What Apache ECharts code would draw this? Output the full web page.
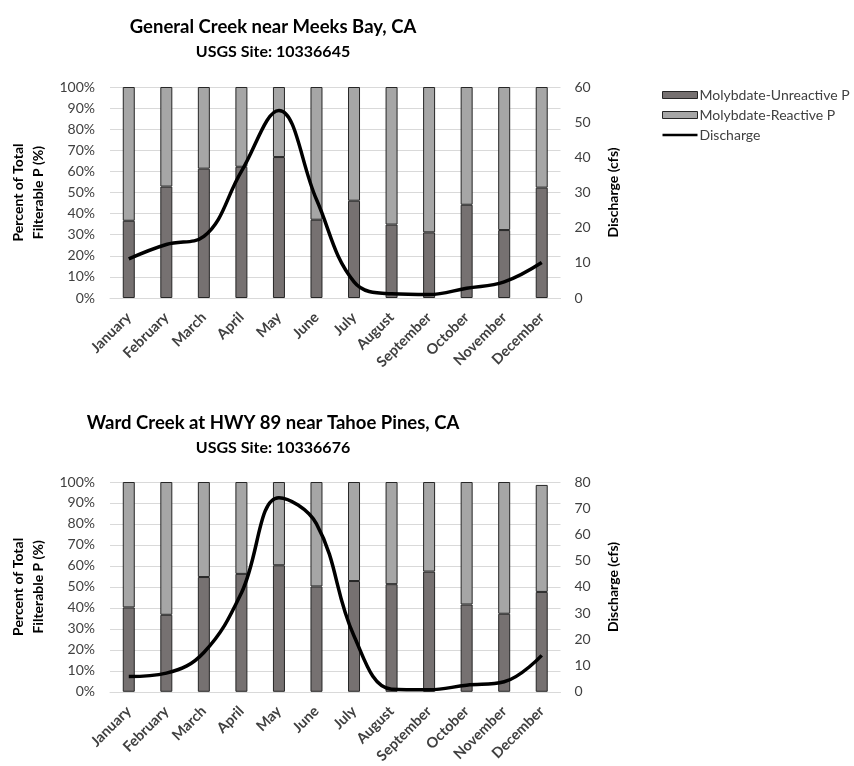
<!DOCTYPE html>
<html>
<head>
<meta charset="utf-8">
<script src="https://cdn.jsdelivr.net/npm/echarts@6/dist/echarts.min.js"></script>
<style>
html,body{margin:0;padding:0;background:#fff;}
#chart{width:854px;height:766px;}
</style>
</head>
<body>
<div id="chart"></div>
<script>
// ---- data ----
var months = ['January','February','March','April','May','June','July','August','September','October','November','December'];
var percentTicks = [0,10,20,30,40,50,60,70,80,90,100];

var generalUnreactive = [36.6, 52.8, 61.3, 62.2, 66.8, 37.1, 46.1, 34.8, 31.1, 44.2, 32.2, 52.3];
var generalReactive   = [63.4, 47.2, 38.7, 37.8, 33.2, 62.9, 53.9, 65.2, 68.9, 55.8, 67.8, 47.7];
var generalDischarge  = [11.1, 15.2, 17.5, 36.0, 53.3, 28.0, 4.6, 1.2, 1.0, 2.8, 4.6, 10.1];

var wardUnreactive = [40.2, 36.7, 54.7, 56.2, 60.3, 50.2, 52.8, 51.3, 57.3, 41.6, 37.2, 47.6];
var wardReactive   = [59.8, 63.3, 45.3, 43.8, 39.7, 49.8, 47.2, 48.7, 42.7, 58.4, 62.8, 51.0];
var wardDischarge  = [5.8, 7.1, 15.0, 37.7, 74.0, 64.0, 21.3, 1.0, 0.8, 2.5, 3.8, 13.9];

var titles = ['General Creek near Meeks Bay, CA', 'Ward Creek at HWY 89 near Tahoe Pines, CA'];
var subtitles = ['USGS Site: 10336645', 'USGS Site: 10336676'];
var seriesNames = ['Molybdate-Unreactive P', 'Molybdate-Reactive P', 'Discharge'];

// ---- chart ----
var FONT = 'Lato, "Open Sans", sans-serif';
var DARK = '#767171', LIGHT = '#a6a6a6', EDGE = '#262626', GRID = '#d9d9d9', TXT = '#404040';

var chart = echarts.init(document.getElementById('chart'), null, {renderer:'canvas'});

function titleItem(text, cy, size){
  return {text:text, left:273, top:cy - size*0.65, textAlign:'center', padding:0,
    textStyle:{fontFamily:FONT, fontWeight:'bold', fontSize:size, color:'#000', lineHeight:Math.round(size*1.3)}};
}

var gridTops = [87, 482];
var grids = gridTops.map(function(t){ return {left:109.5, right:293.5, top:t, height:211}; });

var xAxes = [0,1].map(function(i){
  return {type:'category', gridIndex:i, data:months, boundaryGap:true,
    axisTick:{show:false}, axisLine:{lineStyle:{color:GRID, width:1}},
    axisLabel:{rotate:45, interval:0, margin:17, fontFamily:FONT, fontSize:14.5, fontWeight:'bold', color:TXT}};
});

function leftAxis(i){
  return {type:'value', gridIndex:i, min:percentTicks[0], max:percentTicks[percentTicks.length-1], interval:10,
    position:'left',
    name:'Percent of Total\nFilterable P (%)', nameLocation:'middle', nameGap:62, nameRotate:90,
    nameTextStyle:{fontFamily:FONT, fontWeight:'bold', fontSize:14, color:'#000', lineHeight:20},
    axisLine:{show:false}, axisTick:{show:false},
    splitLine:{lineStyle:{color:GRID, width:1}},
    axisLabel:{formatter:'{value}%', margin:15, fontFamily:FONT, fontSize:14, color:TXT}};
}
function rightAxis(i, max){
  return {type:'value', gridIndex:i, min:0, max:max, interval:10, position:'right',
    name:'Discharge (cfs)', nameLocation:'middle', nameGap:46, nameRotate:90,
    nameTextStyle:{fontFamily:FONT, fontWeight:'bold', fontSize:14, color:'#000'},
    axisLine:{show:false}, axisTick:{show:false}, splitLine:{show:false},
    axisLabel:{margin:14, fontFamily:FONT, fontSize:14, color:TXT}};
}

function barSeries(name, data, color, gi, stack){
  return {name:name, type:'bar', stack:stack, xAxisIndex:gi, yAxisIndex:gi*2, data:data, barWidth:12,
    itemStyle:{color:color, borderColor:EDGE, borderWidth:1}, emphasis:{disabled:true}};
}
function lineSeries(name, data, gi){
  return {name:name, type:'line', xAxisIndex:gi, yAxisIndex:gi*2+1, data:data, smooth:0.4,
    symbol:'none', lineStyle:{color:'#000', width:3.5}, itemStyle:{color:'#000'}, z:5};
}

var option = {
  backgroundColor:'#fff',
  animation:false,
  title:[
    titleItem(titles[0], 27, 18.5),
    titleItem(subtitles[0], 52, 16),
    titleItem(titles[1], 423, 18.5),
    titleItem(subtitles[1], 448, 16)
  ],
  legend:{
    orient:'vertical', left:657, top:83, itemWidth:35, itemHeight:7, itemGap:6,
    textStyle:{fontFamily:FONT, fontSize:14, color:TXT, lineHeight:14, padding:[0,0,0,-3]},
    data:[
      {name:seriesNames[0], icon:'rect', itemStyle:{color:DARK, borderColor:EDGE, borderWidth:1}},
      {name:seriesNames[1], icon:'rect', itemStyle:{color:LIGHT, borderColor:EDGE, borderWidth:1}},
      {name:seriesNames[2], icon:'path://M0,0 M0,2.2 L35,2.2 L35,4.8 L0,4.8 Z M35,7',
        itemStyle:{color:'#000', borderWidth:0}}
    ]
  },
  grid:grids,
  xAxis:xAxes,
  yAxis:[leftAxis(0), rightAxis(0,60), leftAxis(1), rightAxis(1,80)],
  series:[
    barSeries(seriesNames[0], generalUnreactive, DARK, 0, 'g'),
    barSeries(seriesNames[1], generalReactive, LIGHT, 0, 'g'),
    lineSeries(seriesNames[2], generalDischarge, 0),
    barSeries(seriesNames[0], wardUnreactive, DARK, 1, 'w'),
    barSeries(seriesNames[1], wardReactive, LIGHT, 1, 'w'),
    lineSeries(seriesNames[2], wardDischarge, 1)
  ]
};
chart.setOption(option);
</script>
</body>
</html>
